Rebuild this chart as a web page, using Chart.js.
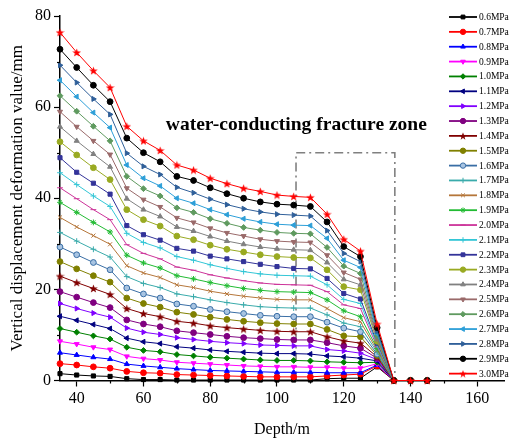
<!DOCTYPE html>
<html lang="en">
<head>
<meta charset="UTF-8">
<title>Vertical displacement deformation vs depth</title>
<script src="https://cdn.jsdelivr.net/npm/chart.js"></script>
<style>
  body { margin: 0; background: #fff; }
  #wrap { width: 509px; height: 439px; }
</style>
</head>
<body>
<div id="wrap"><canvas id="chart" width="509" height="439"></canvas></div>
<script>
// depth stations (m)
const depth = [35, 40, 45, 50, 55, 60, 65, 70, 75, 80, 85, 90, 95, 100, 105, 110, 115, 120, 125, 130, 135, 140, 145];

// vertical displacement (mm) for each water pressure
const p06 = [1.5, 1.2, 1.0, 0.9, 0.4, 0.2, 0.2, 0.1, 0.1, 0.1, 0.1, 0.1, 0.1, 0.1, 0.1, 0.1, 0.4, 0.5, 0.5, 3.0, 0, 0, 0];
const p07 = [3.7, 3.4, 3.0, 2.7, 2.0, 1.7, 1.6, 1.3, 1.2, 1.1, 1.0, 0.9, 0.8, 0.8, 0.8, 0.8, 1.0, 1.2, 1.4, 3.2, 0, 0, 0];
const p08 = [6.1, 5.6, 5.1, 4.7, 3.6, 3.2, 2.9, 2.6, 2.4, 2.2, 2.1, 2.0, 1.9, 1.8, 1.8, 1.8, 1.7, 1.7, 1.7, 3.4, 0, 0, 0];
const p09 = [8.6, 8.0, 7.3, 6.8, 5.3, 4.8, 4.5, 4.0, 3.8, 3.6, 3.4, 3.2, 3.1, 3.0, 3.0, 2.9, 2.9, 2.7, 2.7, 3.7, 0, 0, 0];
const p10 = [11.4, 10.6, 9.8, 9.1, 7.3, 6.6, 6.3, 5.7, 5.4, 5.1, 4.9, 4.7, 4.5, 4.4, 4.4, 4.3, 4.1, 4.0, 3.9, 4.0, 0, 0, 0];
const p11 = [14.1, 13.2, 12.3, 11.4, 9.3, 8.5, 8.1, 7.4, 7.1, 6.7, 6.4, 6.2, 6.0, 5.9, 5.9, 5.8, 5.4, 5.2, 4.9, 4.3, 0, 0, 0];
const p12 = [16.9, 15.8, 14.8, 13.9, 11.5, 10.6, 10.1, 9.4, 9.0, 8.6, 8.3, 8.1, 7.8, 7.7, 7.6, 7.6, 6.8, 6.5, 6.0, 4.6, 0, 0, 0];
const p13 = [19.5, 18.3, 17.1, 16.0, 13.3, 12.4, 11.8, 10.9, 10.5, 10.1, 9.7, 9.4, 9.2, 9.0, 8.9, 8.9, 8.3, 7.6, 7.1, 4.9, 0, 0, 0];
const p14 = [22.9, 21.5, 20.2, 18.9, 15.8, 14.7, 14.0, 13.0, 12.6, 12.0, 11.6, 11.3, 11.0, 10.8, 10.7, 10.7, 9.6, 8.7, 8.2, 5.2, 0, 0, 0];
const p15 = [26.1, 24.5, 23.0, 21.6, 18.1, 16.9, 16.1, 15.0, 14.5, 13.9, 13.4, 13.0, 12.7, 12.5, 12.4, 12.4, 11.2, 9.8, 9.6, 5.5, 0, 0, 0];
const p16 = [29.3, 27.6, 25.9, 24.3, 20.3, 19.0, 18.1, 16.8, 16.3, 15.6, 15.1, 14.7, 14.3, 14.1, 14.0, 14.0, 12.8, 11.5, 10.7, 5.8, 0, 0, 0];
const p17 = [32.5, 30.6, 28.8, 27.1, 22.8, 21.3, 20.4, 19.0, 18.4, 17.7, 17.1, 16.6, 16.2, 16.0, 15.9, 15.9, 14.4, 12.6, 11.8, 6.2, 0, 0, 0];
const p18 = [35.8, 33.7, 31.8, 29.9, 25.2, 23.6, 22.6, 21.0, 20.4, 19.6, 19.0, 18.5, 18.1, 17.8, 17.7, 17.7, 15.8, 13.8, 12.9, 6.6, 0, 0, 0];
const p19 = [39.1, 36.9, 34.7, 32.6, 27.5, 25.8, 24.7, 23.0, 22.3, 21.5, 20.8, 20.2, 19.8, 19.5, 19.4, 19.3, 17.7, 15.3, 14.0, 7.0, 0, 0, 0];
const p20 = [42.3, 39.9, 37.5, 35.3, 29.8, 27.9, 26.7, 24.9, 24.2, 23.2, 22.5, 21.9, 21.4, 21.1, 21.0, 20.9, 19.5, 16.6, 15.8, 7.4, 0, 0, 0];
const p21 = [45.6, 43.0, 40.5, 38.2, 32.3, 30.3, 29.1, 27.2, 26.4, 25.4, 24.6, 23.9, 23.4, 23.1, 23.0, 22.9, 21.0, 17.8, 16.9, 7.8, 0, 0, 0];
const p22 = [48.9, 45.7, 43.3, 40.9, 34.0, 32.0, 30.8, 29.0, 28.4, 27.3, 26.7, 26.1, 25.5, 25.0, 24.6, 24.5, 22.4, 19.1, 17.9, 8.2, 0, 0, 0];
const p23 = [52.4, 49.5, 46.7, 44.1, 37.5, 35.3, 33.9, 31.7, 30.9, 29.7, 28.8, 28.2, 27.6, 27.2, 27.0, 26.9, 24.3, 20.6, 19.9, 8.6, 0, 0, 0];
const p24 = [55.7, 52.6, 49.7, 46.9, 39.9, 37.5, 36.0, 33.7, 32.8, 31.6, 30.6, 29.9, 29.3, 28.9, 28.7, 28.6, 25.9, 22.2, 21.0, 9.0, 0, 0, 0];
const p25 = [59.0, 55.7, 52.6, 49.6, 42.2, 39.7, 38.1, 35.7, 34.7, 33.4, 32.4, 31.7, 31.0, 30.6, 30.4, 30.3, 27.5, 23.7, 22.2, 9.4, 0, 0, 0];
const p26 = [62.5, 59.1, 55.8, 52.6, 44.8, 42.1, 40.5, 37.9, 36.9, 35.5, 34.5, 33.6, 33.0, 32.5, 32.3, 32.2, 29.2, 25.1, 23.5, 9.8, 0, 0, 0];
const p27 = [65.9, 62.3, 58.8, 55.5, 47.3, 44.4, 42.7, 40.0, 38.9, 37.5, 36.4, 35.5, 34.8, 34.3, 34.1, 34.0, 31.2, 26.4, 24.8, 10.3, 0, 0, 0];
const p28 = [69.2, 65.4, 61.8, 58.4, 49.9, 47.0, 45.2, 42.4, 41.2, 39.8, 38.6, 37.7, 37.0, 36.5, 36.3, 36.1, 32.9, 27.9, 26.1, 10.8, 0, 0, 0];
const p29 = [72.7, 68.7, 64.8, 61.2, 53.2, 50.0, 48.0, 44.8, 43.9, 42.3, 41.0, 40.0, 39.2, 38.7, 38.5, 38.2, 34.8, 29.4, 27.2, 11.6, 0, 0, 0];
const p30 = [76.4, 72.0, 68.0, 64.3, 55.8, 52.6, 50.5, 47.3, 46.2, 44.4, 43.2, 42.2, 41.5, 40.7, 40.4, 40.2, 36.5, 31.0, 28.4, 12.4, 0, 0, 0];

const seriesValues = [p06, p07, p08, p09, p10, p11, p12, p13, p14, p15, p16, p17, p18,
                      p19, p20, p21, p22, p23, p24, p25, p26, p27, p28, p29, p30];

const pressures = ['0.6MPa', '0.7MPa', '0.8MPa', '0.9MPa', '1.0MPa', '1.1MPa', '1.2MPa', '1.3MPa',
                   '1.4MPa', '1.5MPa', '1.6MPa', '1.7MPa', '1.8MPa', '1.9MPa', '2.0MPa', '2.1MPa',
                   '2.2MPa', '2.3MPa', '2.4MPa', '2.5MPa', '2.6MPa', '2.7MPa', '2.8MPa', '2.9MPa', '3.0MPa'];

// dash-dot box around the water-conducting fracture zone
const zoneX = [105.7, 105.7, 135.3, 135.3];
const zoneY = [0, 50, 50, 0];
const zoneLabel = 'water-conducting fracture zone';
const zoneLabelAt = [105.8, 56];

// axis ticks
const xTickStep = 20, yTickStep = 20;
const xMinorTicks = [50, 70, 90, 110, 130, 150];
const yMinorTicks = [10, 30, 50, 70];

const colors = ['#000000', '#ff0000', '#0000ff', '#ff00ff', '#008000', '#000080', '#8000ff', '#800080',
                '#800000', '#808000', '#3a6ea5', '#3aabab', '#b5763a', '#22bb33', '#cc3399', '#33c6d6',
                '#333399', '#99aa22', '#808080', '#9a6a6a', '#5f9a5f', '#2d9fd8', '#2f5f99', '#000000', '#ff0000'];

const serif = "'Liberation Serif', 'Times New Roman', serif";

function starCanvas(color, size) {
  const c = document.createElement('canvas');
  c.width = size; c.height = size;
  const g = c.getContext('2d');
  const h = size / 2;
  g.fillStyle = color;
  g.beginPath();
  for (let k = 0; k < 10; k++) {
    const r = k % 2 ? h * 0.42 : h;
    const a = -Math.PI / 2 + k * Math.PI / 5;
    const px = h + r * Math.cos(a), py = h * 1.1 + r * Math.sin(a);
    if (k) g.lineTo(px, py); else g.moveTo(px, py);
  }
  g.closePath();
  g.fill();
  return c;
}

function markerStyles(starSize) {
  return ['rect', 'circle', 'triangle', 'triangle', 'rectRot', 'triangle', 'triangle', 'circle',
          starCanvas('#800000', starSize), 'circle', 'circle', 'cross', 'crossRot', 'star', 'line', 'cross',
          'rect', 'circle', 'triangle', 'triangle', 'rectRot', 'triangle', 'triangle', 'circle',
          starCanvas('#ff0000', starSize)];
}
const styles = markerStyles(9);
const legendStyles = markerStyles(8);
const rotations = [0, 0, 0, 180, 0, 270, 90, 0, 0, 0, 0, 0, 0, 0, 0, 0,
                   0, 0, 0, 180, 0, 270, 90, 0, 0];
const fills = colors.map((c, i) => i === 10 ? '#a8c4e2' : c);

const datasets = seriesValues.map((vals, i) => ({
  label: pressures[i],
  data: vals.map((v, j) => ({ x: depth[j], y: v })),
  borderColor: colors[i],
  backgroundColor: fills[i],
  borderWidth: 1,
  pointStyle: styles[i],
  pointRotation: rotations[i],
  pointRadius: 2.9,
  pointBorderWidth: 1,
  pointBorderColor: colors[i],
  pointBackgroundColor: fills[i],
  clip: 10,
  order: seriesValues.length - i
}));

datasets.push({
  label: 'zone',
  data: zoneX.map((x, j) => ({ x: x, y: zoneY[j] })),
  borderColor: '#808080',
  borderWidth: 1.6,
  borderDash: [9, 4, 2, 4],
  pointRadius: 0,
  clip: 10,
  order: 100
});

const decorations = {
  id: 'decorations',
  afterDatasetsDraw(chart) {
    const ctx = chart.ctx;
    const xs = chart.scales.x, ys = chart.scales.y;
    ctx.save();
    ctx.font = 'bold 19.5px ' + serif;
    ctx.fillStyle = '#000';
    ctx.textAlign = 'center';
    ctx.textBaseline = 'middle';
    ctx.fillText(zoneLabel, xs.getPixelForValue(zoneLabelAt[0]), ys.getPixelForValue(zoneLabelAt[1]));

    // minor ticks
    ctx.strokeStyle = '#000';
    ctx.lineWidth = 1.2;
    xMinorTicks.forEach(v => {
      const px = Math.round(xs.getPixelForValue(v)) + 0.5;
      ctx.beginPath(); ctx.moveTo(px, ys.bottom); ctx.lineTo(px, ys.bottom + 3); ctx.stroke();
    });
    yMinorTicks.forEach(v => {
      const py = Math.round(ys.getPixelForValue(v)) + 0.5;
      ctx.beginPath(); ctx.moveTo(xs.left, py); ctx.lineTo(xs.left - 3, py); ctx.stroke();
    });

    // legend: line + marker + label, stacked on the right
    ctx.font = '9.5px ' + serif;
    ctx.textAlign = 'left';
    pressures.forEach((p, i) => {
      const y = 17 + i * 14.86;
      ctx.strokeStyle = colors[i];
      ctx.lineWidth = 1.8;
      ctx.beginPath(); ctx.moveTo(449, y); ctx.lineTo(477, y); ctx.stroke();
      ctx.lineWidth = 1;
      ctx.fillStyle = fills[i];
      Chart.helpers.drawPoint(ctx, { pointStyle: legendStyles[i], radius: 2.7, rotation: rotations[i], borderWidth: 1 }, 463, y);
      ctx.fillStyle = '#000';
      ctx.fillText(p, 479, y + 0.5);
    });
    ctx.restore();
  }
};

new Chart(document.getElementById('chart'), {
  type: 'line',
  data: { datasets: datasets },
  options: {
    responsive: false,
    animation: false,
    devicePixelRatio: 1,
    layout: { padding: { top: 16, right: 0, left: 0, bottom: 0 } },
    plugins: { legend: { display: false }, tooltip: { enabled: false } },
    elements: { line: { tension: 0 } },
    scales: {
      x: {
        type: 'linear',
        min: 35,
        max: 168,
        afterFit(scale) { scale.height = 58.5; },
        border: { color: '#000', width: 1.5 },
        grid: { drawOnChartArea: false, drawTicks: true, tickLength: 6, color: '#000', tickWidth: 1.2 },
        ticks: { stepSize: xTickStep, includeBounds: false, autoSkip: false, maxRotation: 0, color: '#000',
                 padding: 3, font: { family: serif, size: 16 } },
        title: { display: true, text: 'Depth/m', color: '#000', padding: { top: 0, bottom: 0 },
                 font: { family: serif, size: 16 } }
      },
      y: {
        min: 0,
        max: 80,
        afterFit(scale) { scale.width = 60; },
        border: { color: '#000', width: 1.5 },
        grid: { drawOnChartArea: false, drawTicks: true, tickLength: 6, color: '#000', tickWidth: 1.2 },
        ticks: { stepSize: yTickStep, color: '#000', padding: 3, font: { family: serif, size: 16 } },
        title: { display: true, text: 'Vertical displacement deformation value/mm', color: '#000',
                 padding: { top: 7, bottom: 0 }, font: { family: serif, size: 17 } }
      }
    }
  },
  plugins: [decorations]
});
</script>
</body>
</html>
